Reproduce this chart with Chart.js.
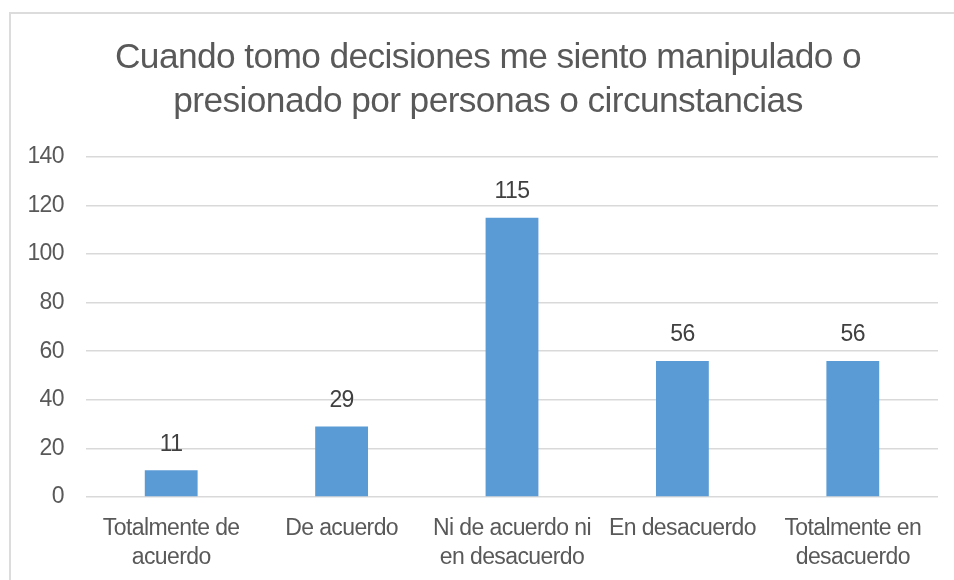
<!DOCTYPE html>
<html>
<head>
<meta charset="utf-8">
<script src="https://cdn.jsdelivr.net/npm/chart.js@4.4.0/dist/chart.umd.min.js"></script>
<style>
  html, body { margin: 0; padding: 0; background: #fff; }
  #wrap { position: relative; width: 954px; height: 580px; }
  #frame { position: absolute; left: 9px; top: 12px; right: -4px; bottom: -4px;
           border-top: 2px solid #dcdcdc; border-left: 2px solid #dcdcdc; pointer-events: none; }
  canvas { position: absolute; left: 0; top: 0; }
</style>
</head>
<body>
<div id="wrap">
  <canvas id="chart" width="954" height="580"></canvas>
  <div id="frame"></div>
</div>
<script>
const titleLines = ['Cuando tomo decisiones me siento manipulado o', 'presionado por personas o circunstancias'];
const categories = [
  ['Totalmente de', 'acuerdo'],
  'De acuerdo',
  ['Ni de acuerdo ni', 'en desacuerdo'],
  'En desacuerdo',
  ['Totalmente en', 'desacuerdo']
];
const counts = [11, 29, 115, 56, 56];
const yTicks = [0, 20, 40, 60, 80, 100, 120, 140];

const FONT = '"Liberation Sans", Arial, Helvetica, sans-serif';
const TRACKING = '-0.6px';

// tighter letter spacing, the reference text is set fairly condensed
const tracking = {
  id: 'tracking',
  beforeUpdate(chart) { chart.ctx.letterSpacing = TRACKING; },
  beforeLayout(chart) { chart.ctx.letterSpacing = TRACKING; },
  beforeDraw(chart) { chart.ctx.letterSpacing = TRACKING; }
};

// draws the value above each bar
const valueLabels = {
  id: 'valueLabels',
  afterDatasetsDraw(chart) {
    const ctx = chart.ctx;
    const meta = chart.getDatasetMeta(0);
    ctx.save();
    ctx.font = '23px ' + FONT;
    ctx.fillStyle = '#404040';
    ctx.textAlign = 'center';
    ctx.textBaseline = 'middle';
    meta.data.forEach((bar, i) => {
      ctx.fillText(String(chart.data.datasets[0].data[i]), bar.x, bar.y - 26);
    });
    ctx.restore();
  }
};

new Chart(document.getElementById('chart'), {
  type: 'bar',
  data: {
    labels: categories,
    datasets: [{
      data: counts,
      backgroundColor: '#5B9BD5',
      categoryPercentage: 1,
      barPercentage: 0.31
    }]
  },
  options: {
    responsive: false,
    animation: false,
    // left padding keeps the title centred like the original; y labels hang outside it
    layout: { padding: { top: 14, left: 38, right: 16, bottom: 0 } },
    plugins: {
      legend: { display: false },
      tooltip: { enabled: false },
      title: {
        display: true,
        text: titleLines,
        color: '#595959',
        font: { family: FONT, size: 35.3, weight: 'normal', lineHeight: 1.245 },
        padding: { top: 22, bottom: 33 }
      }
    },
    scales: {
      x: {
        grid: { display: false },
        border: { display: false },
        ticks: {
          color: '#595959',
          font: { family: FONT, size: 23, lineHeight: 1.26 },
          padding: 9,
          maxRotation: 0,
          autoSkip: false
        },
        afterFit(s) { s.height = 83; }
      },
      y: {
        min: 0,
        max: 140,
        afterBuildTicks(s) { s.ticks = yTicks.map(v => ({ value: v })); },
        grid: { color: '#d9d9d9', lineWidth: 1.5, drawTicks: false },
        border: { display: false },
        ticks: {
          color: '#595959',
          font: { family: FONT, size: 23 },
          padding: 22
        },
        afterFit(s) {
          s.width = 48;
          s._computeLabelArea = () => undefined; // don't clip labels to the narrow axis box
        }
      }
    }
  },
  plugins: [tracking, valueLabels]
});
</script>
</body>
</html>
